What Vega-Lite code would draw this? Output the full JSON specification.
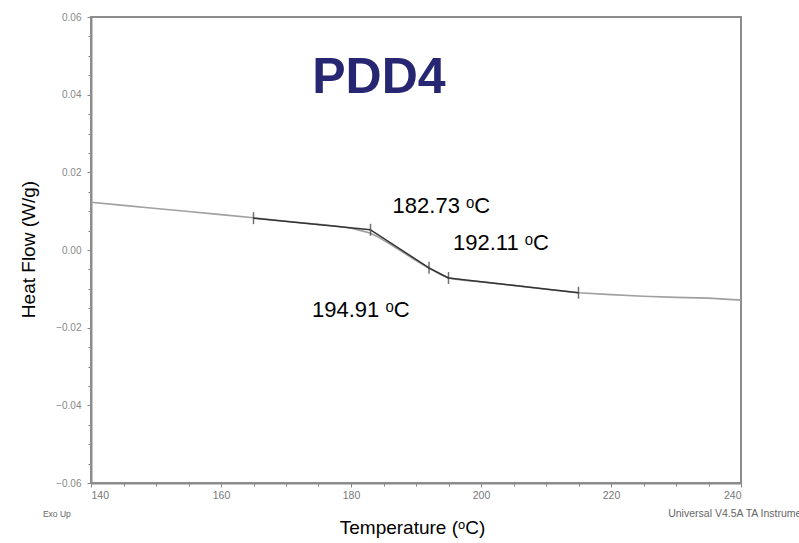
{
  "$schema": "https://vega.github.io/schema/vega-lite/v6.json",
  "width": 650,
  "height": 466,
  "autosize": {"type": "none"},
  "padding": {"left": 91, "top": 17, "right": 58, "bottom": 60},
  "background": "white",
  "config": {
    "view": {"stroke": "#8c8c8c", "strokeWidth": 2},
    "font": "Liberation Sans",
    "axis": {"grid": false}
  },
  "datasets": {
    "curve": [
      {"T": 140, "H": 0.0123}, {"T": 145, "H": 0.0115}, {"T": 150, "H": 0.0107},
      {"T": 155, "H": 0.0099}, {"T": 160, "H": 0.0091}, {"T": 165, "H": 0.0083},
      {"T": 170, "H": 0.0074}, {"T": 175, "H": 0.0066}, {"T": 178, "H": 0.0061},
      {"T": 180, "H": 0.0056}, {"T": 182, "H": 0.0048}, {"T": 183, "H": 0.0043},
      {"T": 184, "H": 0.0035}, {"T": 186, "H": 0.0015}, {"T": 188, "H": -0.0006},
      {"T": 190, "H": -0.0027}, {"T": 192, "H": -0.0047}, {"T": 194, "H": -0.0065},
      {"T": 195, "H": -0.0072}, {"T": 196, "H": -0.0075}, {"T": 198, "H": -0.0079},
      {"T": 200, "H": -0.0082}, {"T": 205, "H": -0.0091}, {"T": 210, "H": -0.0101},
      {"T": 215, "H": -0.0110}, {"T": 220, "H": -0.0115}, {"T": 225, "H": -0.0119},
      {"T": 230, "H": -0.0122}, {"T": 235, "H": -0.0124}, {"T": 240, "H": -0.0129}
    ],
    "tangent": [
      {"seg": "a", "T": 165, "H": 0.0082}, {"seg": "a", "T": 183, "H": 0.0052},
      {"seg": "b", "T": 183, "H": 0.0052}, {"seg": "b", "T": 192, "H": -0.0046}, {"seg": "b", "T": 195, "H": -0.0072},
      {"seg": "c", "T": 195, "H": -0.0072}, {"seg": "c", "T": 215, "H": -0.0110}
    ],
    "marks": [
      {"T": 165, "H": 0.0082}, {"T": 183, "H": 0.0052}, {"T": 192, "H": -0.0046},
      {"T": 195, "H": -0.0072}, {"T": 215, "H": -0.0110}
    ],
    "notes": [
      {"T": 186.4, "H": 0.0095, "label": "182.73 ᵒC"},
      {"T": 195.7, "H": 0.0, "label": "192.11 ᵒC"},
      {"T": 174.0, "H": -0.0172, "label": "194.91 ᵒC"}
    ],
    "exo": [{"T": 132.6, "H": -0.068, "label": "Exo Up"}],
    "univ": [{"T": 228.8, "H": -0.068, "label": "Universal V4.5A TA Instruments"}],
    "title": [{"T": 184.3, "H": 0.0443, "label": "PDD4"}]
  },
  "layer": [
    {
      "data": {"name": "curve"},
      "mark": {"type": "line", "color": "#a0a0a0", "strokeWidth": 1.6},
      "encoding": {
        "x": {"field": "T", "type": "quantitative", "scale": {"domain": [140, 240], "nice": false},
          "axis": {"orient": "bottom", "values": [140, 160, 180, 200, 220, 240], "labelFontSize": 10.5, "labelColor": "#777", "labelPadding": 3,
            "tickColor": "#888", "tickSize": 4, "domainColor": "#8c8c8c", "domainWidth": 2,
            "title": "Temperature (ᵒC)", "titleFontSize": 19, "titleFontWeight": "normal", "titleColor": "#000",
            "titleX": 321, "titleY": 50, "titleBaseline": "alphabetic"}},
        "y": {"field": "H", "type": "quantitative", "scale": {"domain": [-0.06, 0.06], "nice": false},
          "axis": {"orient": "left", "values": [-0.06, -0.04, -0.02, 0, 0.02, 0.04, 0.06], "format": ".2f", "labelFontSize": 10, "labelColor": "#888", "labelPadding": 6,
            "tickColor": "#888", "tickSize": 4, "domainColor": "#8c8c8c", "domainWidth": 2,
            "title": "Heat Flow (W/g)", "titleFontSize": 19, "titleFontWeight": "normal", "titleColor": "#000",
            "titleX": -63, "titleY": 232, "titleBaseline": "middle"}}
      }
    },
    {
      "data": {"name": "tangent"},
      "mark": {"type": "line", "color": "#333", "strokeWidth": 1.5},
      "encoding": {
        "x": {"field": "T", "type": "quantitative",
          "axis": {"orient": "bottom", "values": [145, 150, 155, 165, 170, 175, 185, 190, 195, 205, 210, 215, 225, 230, 235], "labels": false, "domain": false, "tickColor": "#888", "tickSize": 3, "title": null}},
        "y": {"field": "H", "type": "quantitative",
          "axis": {"orient": "left", "values": [-0.055, -0.05, -0.045, -0.035, -0.03, -0.025, -0.015, -0.01, -0.005, 0.005, 0.01, 0.015, 0.025, 0.03, 0.035, 0.045, 0.05, 0.055], "labels": false, "domain": false, "tickColor": "#888", "tickSize": 3, "title": null}},
        "detail": {"field": "seg"}
      }
    },
    {
      "data": {"name": "marks"},
      "mark": {"type": "tick", "orient": "vertical", "color": "#333", "size": 12, "thickness": 1.5},
      "encoding": {
        "x": {"field": "T", "type": "quantitative", "axis": null},
        "y": {"field": "H", "type": "quantitative", "axis": null}
      }
    },
    {
      "data": {"name": "notes"},
      "mark": {"type": "text", "fontSize": 22, "align": "left", "baseline": "alphabetic", "color": "#000"},
      "encoding": {
        "x": {"field": "T", "type": "quantitative", "axis": null},
        "y": {"field": "H", "type": "quantitative", "axis": null},
        "text": {"field": "label"}
      }
    },
    {
      "data": {"name": "exo"},
      "mark": {"type": "text", "fontSize": 8.5, "align": "left", "baseline": "middle", "color": "#666", "clip": false},
      "encoding": {
        "x": {"field": "T", "type": "quantitative", "axis": null},
        "y": {"field": "H", "type": "quantitative", "axis": null},
        "text": {"field": "label"}
      }
    },
    {
      "data": {"name": "univ"},
      "mark": {"type": "text", "fontSize": 10.5, "align": "left", "baseline": "middle", "color": "#666", "clip": false},
      "encoding": {
        "x": {"field": "T", "type": "quantitative", "axis": null},
        "y": {"field": "H", "type": "quantitative", "axis": null},
        "text": {"field": "label"}
      }
    },
    {
      "data": {"name": "title"},
      "mark": {"type": "text", "fontSize": 50, "fontWeight": "bold", "align": "center", "baseline": "middle", "color": "#262673"},
      "encoding": {
        "x": {"field": "T", "type": "quantitative", "axis": null},
        "y": {"field": "H", "type": "quantitative", "axis": null},
        "text": {"field": "label"}
      }
    }
  ],
  "resolve": {"axis": {"x": "independent", "y": "independent"}}
}
